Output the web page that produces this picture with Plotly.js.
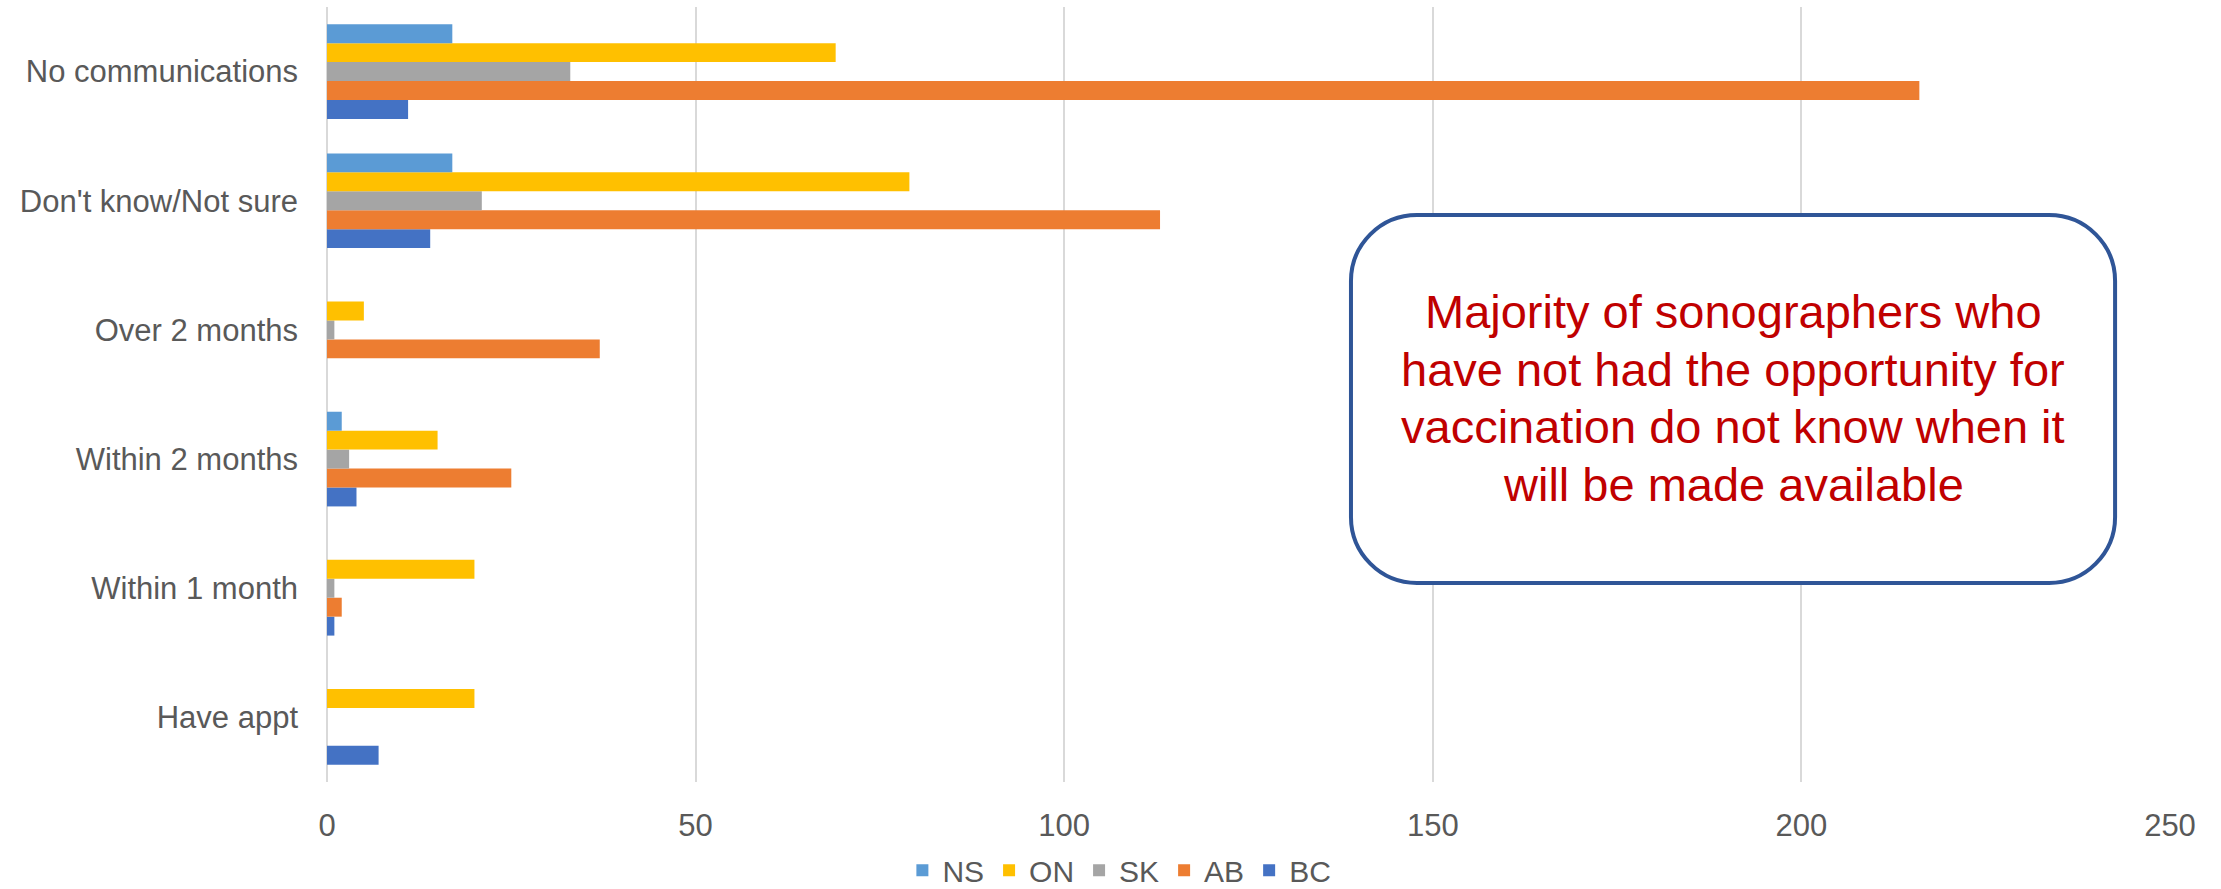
<!DOCTYPE html>
<html>
<head>
<meta charset="utf-8">
<script src="https://cdn.plot.ly/plotly-3.0.1.min.js"></script>
<style>
  html, body { margin: 0; padding: 0; background: #fff; }
  #chart { width: 2221px; height: 889px; }
</style>
</head>
<body>
<div id="chart"></div>
<script>
// Categories, bottom to top (Plotly draws the first category at the bottom)
const categories = ["Have appt", "Within 1 month", "Within 2 months", "Over 2 months", "Don't know/Not sure", "No communications"];

// Series values per category (same order as categories)
const NS = [0, 0, 2, 0, 17, 17];
const ON = [20, 20, 15, 5, 79, 69];
const SK = [0, 1, 3, 1, 21, 33];
const AB = [0, 2, 25, 37, 113, 216];
const BC = [7, 1, 4, 0, 14, 11];

const seriesNames = ["NS", "ON", "SK", "AB", "BC"];
const seriesValues = [NS, ON, SK, AB, BC];
const seriesColors = ["#5B9BD5", "#FFC000", "#A5A5A5", "#ED7D31", "#4472C4"];

const xTicks = [0, 50, 100, 150, 200, 250];

const noteLines = [
  "Majority of sonographers who",
  "have not had the opportunity for",
  "vaccination do not know when it",
  "will be made available"
];

// Build traces in reverse so NS sits at the top of each group
const traces = [];
for (let i = seriesNames.length - 1; i >= 0; i--) {
  traces.push({
    type: "bar",
    orientation: "h",
    name: seriesNames[i],
    y: categories,
    x: seriesValues[i],
    marker: { color: seriesColors[i], line: { width: 0 } },
    hoverinfo: "x+name"
  });
}

// Rounded rectangle for the callout (paper coordinates)
const bx0 = 0.5556, bx1 = 0.9702, by0 = 0.2568, by1 = 0.7316;
const rx = 66 / 1843, ry = 66 / 775, k = 0.5523;
const roundedPath =
  `M ${bx0 + rx},${by1} L ${bx1 - rx},${by1} ` +
  `C ${bx1 - rx + rx * k},${by1} ${bx1},${by1 - ry + ry * k} ${bx1},${by1 - ry} ` +
  `L ${bx1},${by0 + ry} ` +
  `C ${bx1},${by0 + ry - ry * k} ${bx1 - rx + rx * k},${by0} ${bx1 - rx},${by0} ` +
  `L ${bx0 + rx},${by0} ` +
  `C ${bx0 + rx - rx * k},${by0} ${bx0},${by0 + ry - ry * k} ${bx0},${by0 + ry} ` +
  `L ${bx0},${by1 - ry} ` +
  `C ${bx0},${by1 - ry + ry * k} ${bx0 + rx - rx * k},${by1} ${bx0 + rx},${by1} Z`;

const font = "Liberation Sans, Arial, sans-serif";

// one annotation per line of the callout text, to control line spacing
const lineY = [0.6065, 0.5329, 0.4581, 0.3845];
const annotations = noteLines.map((t, i) => ({
  xref: "paper",
  yref: "paper",
  x: 0.763,
  y: lineY[i],
  xanchor: "center",
  yanchor: "middle",
  showarrow: false,
  align: "center",
  text: t,
  font: { family: font, size: 47, color: "#C00000" }
}));

const layout = {
  width: 2221,
  height: 889,
  margin: { l: 327, r: 51, t: 7, b: 107 },
  paper_bgcolor: "#ffffff",
  plot_bgcolor: "#ffffff",
  barmode: "group",
  bargap: 0.267,
  bargroupgap: 0,
  font: { family: font, size: 31, color: "#595959" },
  xaxis: {
    range: [0, 250],
    tickvals: xTicks,
    ticktext: xTicks.map(String),
    showgrid: true,
    gridcolor: "#D9D9D9",
    gridwidth: 2,
    zeroline: true,
    zerolinecolor: "#D9D9D9",
    zerolinewidth: 2,
    showline: false,
    ticks: "",
    ticklabelstandoff: 22,
    tickfont: { family: font, size: 31, color: "#595959" },
    fixedrange: true
  },
  yaxis: {
    type: "category",
    categoryorder: "array",
    categoryarray: categories,
    showgrid: false,
    zeroline: false,
    showline: false,
    ticks: "",
    ticklabelstandoff: 28,
    tickfont: { family: font, size: 31, color: "#595959" },
    fixedrange: true
  },
  showlegend: true,
  legend: {
    orientation: "h",
    traceorder: "reversed",
    xref: "container",
    yref: "container",
    x: 0.504,
    xanchor: "center",
    y: 0.021,
    yanchor: "middle",
    font: { family: font, size: 30, color: "#595959" },
    itemwidth: 30,
    bgcolor: "rgba(0,0,0,0)"
  },
  shapes: [{
    type: "path",
    xref: "paper",
    yref: "paper",
    path: roundedPath,
    fillcolor: "#ffffff",
    line: { color: "#2F5597", width: 4 },
    layer: "above"
  }],
  annotations: annotations
};

Plotly.newPlot("chart", traces, layout, { displayModeBar: false, responsive: false });
</script>
</body>
</html>
